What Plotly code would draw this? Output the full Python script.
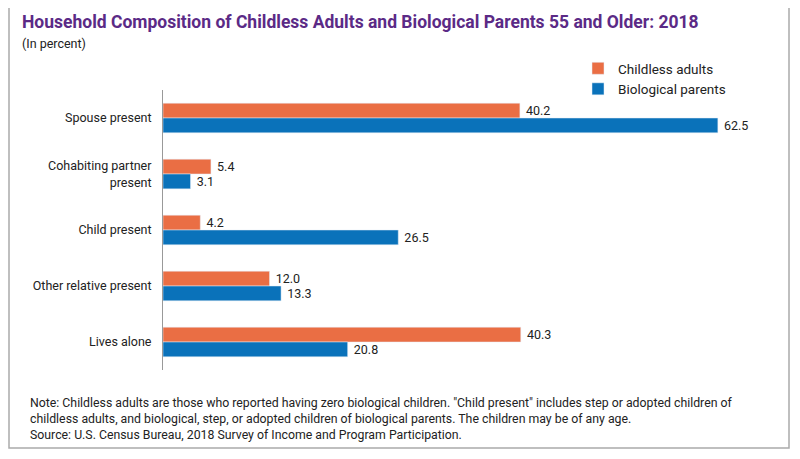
import plotly.graph_objects as go

categories = ["Spouse present", "Cohabiting partner<br>present", "Child present",
              "Other relative present", "Lives alone"]
childless = [40.2, 5.4, 4.2, 12.0, 40.3]
parents = [62.5, 3.1, 26.5, 13.3, 20.8]

orange = "#EA6E44"
blue = "#0A72BA"
font = "Roboto"

# page body has an 8px margin, so the figure is sized/placed to compensate
W, H = 784, 443
L, R, T, B = 155, 12, 82, 81
pw = W - L - R
ph = H - T - B

fig = go.Figure()
fig.add_trace(go.Bar(y=categories, x=childless, orientation="h", name="Childless adults",
                     marker_color=orange, text=[f" {v:.1f}" for v in childless],
                     textposition="outside", cliponaxis=False))
fig.add_trace(go.Bar(y=categories, x=parents, orientation="h", name="Biological parents",
                     marker_color=blue, text=[f" {v:.1f}" for v in parents],
                     textposition="outside", cliponaxis=False))

fig.update_layout(
    width=W, height=H, barmode="group", bargap=0.47, bargroupgap=0,
    margin=dict(l=L, r=R, t=T, b=B, autoexpand=False),
    paper_bgcolor="white", plot_bgcolor="white",
    font=dict(family=font, size=12.5, color="#222"),
    showlegend=True,
    legend=dict(x=(570 - L) / pw, y=1 + (T - 45) / ph, xanchor="left", yanchor="top",
                font=dict(size=13.5), itemwidth=30, traceorder="normal",
                bgcolor="rgba(0,0,0,0)"),
    xaxis=dict(range=[0, 69.5], visible=False, automargin=False),
    yaxis=dict(autorange="reversed", showline=True, linecolor="#999", linewidth=1,
               ticks="", tickfont=dict(size=12.5), ticklabelstandoff=8, automargin=False),
    uniformtext=dict(minsize=12, mode="show"),
)
fig.update_traces(textfont=dict(size=13.5, color="#222"))

fig.add_annotation(text="<b>Household Composition of Childless Adults and Biological Parents 55 and Older: 2018</b>",
                   xref="paper", yref="paper", x=-(L - 12) / pw, y=1 + (T - 2) / ph,
                   xanchor="left", yanchor="top", showarrow=False,
                   font=dict(size=17.5, color="#5B2A86", family=font))
fig.add_annotation(text="(In percent)", xref="paper", yref="paper",
                   x=-(L - 12) / pw, y=1 + (T - 26) / ph, xanchor="left", yanchor="top",
                   showarrow=False, font=dict(size=12.5, family=font))
fig.add_annotation(
    text="Note: Childless adults are those who reported having zero biological children. \"Child present\" includes step or adopted children of<br>"
         "childless adults, and biological, step, or adopted children of biological parents. The children may be of any age.<br>"
         "Source: U.S. Census Bureau, 2018 Survey of Income and Program Participation.",
    xref="paper", yref="paper", x=-(L - 20) / pw, y=-(386 - (T + ph)) / ph,
    xanchor="left", yanchor="top", align="left", showarrow=False,
    font=dict(size=12.3, family=font))
fig.add_shape(type="rect", xref="paper", yref="paper",
              x0=-(L - 1) / pw, x1=1 + (R - 3) / pw, y0=-(B - 3) / ph, y1=1 + (T + 5) / ph,
              line=dict(color="#aaa", width=1.5))

fig.write_html("out.html")
